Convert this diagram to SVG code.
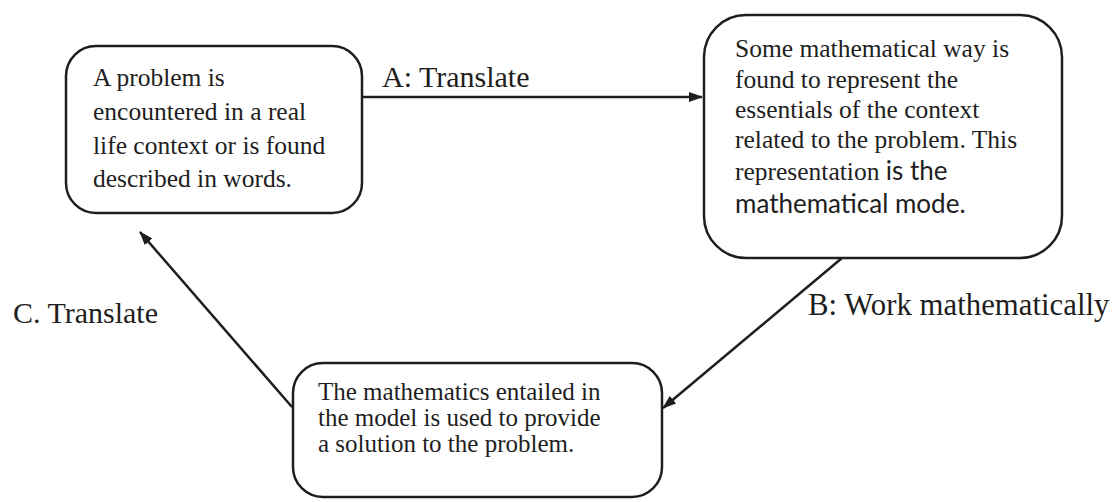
<svg xmlns="http://www.w3.org/2000/svg" width="1115" height="502" viewBox="0 0 1115 502">
<defs>
<style>
.box{fill:#fff;stroke:#1e1e1e;stroke-width:2.5}
.t{font-family:"Liberation Serif","Times New Roman",serif;font-size:25.5px;fill:#1e1e1e}
.t3{font-family:"Liberation Serif","Times New Roman",serif;font-size:25px;fill:#1e1e1e}
.s{font-family:Lato,"Open Sans",sans-serif;font-size:26px;fill:#1e1e1e}
.lbl{font-family:"Liberation Serif","Times New Roman",serif;font-size:30px;fill:#1e1e1e}
.c{stroke:#1e1e1e;stroke-width:2.5;fill:none;marker-end:url(#ah)}
</style>
<marker id="ah" markerWidth="14" markerHeight="10" refX="13" refY="5" orient="auto" markerUnits="userSpaceOnUse">
<path d="M0,0 L14,5 L0,10 Z" fill="#1e1e1e"/>
</marker>
</defs>
<rect width="1115" height="502" fill="#fff"/>
<g id="connectors">
<line class="c" x1="362" y1="97" x2="702" y2="97"/>
<line class="c" x1="842" y1="258" x2="663" y2="408"/>
<line class="c" x1="292" y1="407" x2="140" y2="232"/>
</g>
<g id="labels">
<text class="lbl" x="382" y="87">A: Translate</text>
<text class="lbl" x="808" y="315" style="font-size:30.8px">B: Work mathematically</text>
<text class="lbl" x="13" y="323">C. Translate</text>
</g>
<g id="node-problem">
<rect class="box" x="66" y="46" width="296" height="167" rx="30" ry="30"/>
<text class="t" x="93" y="86">A problem is</text>
<text class="t" x="93" y="120">encountered in a real</text>
<text class="t" x="93" y="154">life context or is found</text>
<text class="t" x="93" y="187">described in words.</text>
</g>
<g id="node-model">
<rect class="box" x="704" y="15" width="358" height="243" rx="42" ry="42"/>
<text class="t" x="735" y="57">Some mathematical way is</text>
<text class="t" x="735" y="88">found to represent the</text>
<text class="t" x="735" y="118">essentials of the context</text>
<text class="t" x="735" y="148">related to the problem. This</text>
<text x="735" y="180"><tspan class="t">representation </tspan><tspan class="s">is the</tspan></text>
<text class="s" x="735" y="213">mathematical mode.</text>
</g>
<g id="node-solution">
<rect class="box" x="293" y="363" width="369" height="134" rx="30" ry="30"/>
<text class="t3" x="318" y="400">The mathematics entailed in</text>
<text class="t3" x="318" y="426">the model is used to provide</text>
<text class="t3" x="318" y="452">a solution to the problem.</text>
</g>
</svg>
